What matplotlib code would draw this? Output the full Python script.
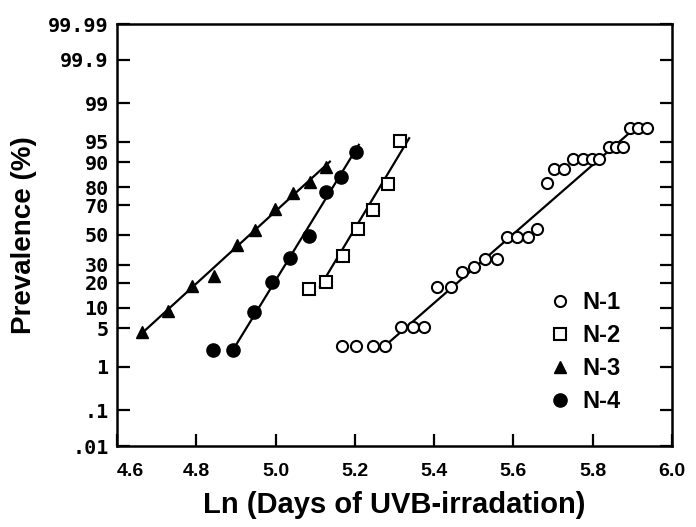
import math

import numpy as np
import matplotlib
matplotlib.use("Agg")
import matplotlib.pyplot as plt
from matplotlib.lines import Line2D

# ---- data ----
# x = ln(days of UVB irradiation), y = prevalence in %
n1_x = [5.167, 5.203, 5.245, 5.276, 5.316, 5.346, 5.375, 5.406, 5.442,
        5.470, 5.501, 5.528, 5.558, 5.583, 5.610, 5.636, 5.659, 5.684,
        5.703, 5.728, 5.750, 5.776, 5.798, 5.817, 5.840, 5.859, 5.877,
        5.894, 5.915, 5.938]
n1_y = [2.5, 2.5, 2.5, 2.5, 5.2, 5.2, 5.2, 18.1, 18.1,
        25.5, 28.5, 33.6, 33.6, 48.8, 48.8, 48.8, 54.0, 81.9,
        87.8, 87.8, 90.9, 90.9, 90.9, 90.9, 94.0, 94.0, 94.0,
        97.0, 97.0, 97.0]

n2_x = [5.084, 5.126, 5.171, 5.209, 5.247, 5.283, 5.314]
n2_y = [16.9, 20.6, 35.8, 54.0, 67.0, 81.6, 95.1]

n3_x = [4.662, 4.729, 4.788, 4.845, 4.902, 4.948, 4.999, 5.045, 5.087, 5.127]
n3_y = [4.4, 9.1, 18.4, 23.5, 43.0, 53.5, 67.5, 76.9, 82.6, 88.4]

n4_x = [4.841, 4.892, 4.946, 4.990, 5.036, 5.085, 5.127, 5.164, 5.202]
n4_y = [2.1, 2.1, 8.8, 20.2, 34.0, 49.3, 77.7, 84.5, 92.9]

# fitted lines: (x start, x end), (% start, % end)
n1_fit_x, n1_fit_y = [5.272, 5.911], [2.4, 97.2]
n2_fit_x, n2_fit_y = [5.112, 5.337], [18.1, 95.6]
n3_fit_x, n3_fit_y = [4.658, 5.137], [3.9, 90.2]
n4_fit_x, n4_fit_y = [4.890, 5.210], [2.0, 94.4]

x_ticks = [4.6, 4.8, 5.0, 5.2, 5.4, 5.6, 5.8, 6.0]
y_ticks = [0.01, 0.1, 1, 5, 10, 20, 30, 50, 70, 80, 90, 95, 99, 99.9, 99.99]
y_tick_labels = [".01", ".1", "1", "5", "10", "20", "30", "50", "70", "80",
                 "90", "95", "99", "99.9", "99.99"]

# ---- normal probability (probit) scale ----
_z = np.linspace(-6, 6, 24001)
_p = 50.0 * (1.0 + np.vectorize(math.erf)(_z / math.sqrt(2)))


def to_probit(p):
    p = np.clip(np.asarray(p, dtype=float), _p[0], _p[-1])
    return np.interp(p, _p, _z)


def from_probit(z):
    return np.interp(np.asarray(z, dtype=float), _z, _p)


fig = plt.figure(figsize=(6.96, 5.27), dpi=100)
ax = fig.add_axes([117 / 696, 1 - 446 / 527, 555 / 696, 422 / 527])
ax.set_yscale("function", functions=(to_probit, from_probit))

lw = 1.6
for fx, fy in [(n1_fit_x, n1_fit_y), (n2_fit_x, n2_fit_y),
               (n3_fit_x, n3_fit_y), (n4_fit_x, n4_fit_y)]:
    ax.plot(fx, fy, color="black", lw=lw, zorder=2)

ax.plot(n1_x, n1_y, "o", ms=8, mfc="white", mec="black", mew=1.5, zorder=3)
ax.plot(n2_x, n2_y, "s", ms=8.5, mfc="white", mec="black", mew=1.5, zorder=3)
ax.plot(n3_x, n3_y, "^", ms=9, color="black", zorder=3)
ax.plot(n4_x, n4_y, "o", ms=9.5, color="black", zorder=3)

ax.set_xlim(4.6, 6.0)
ax.set_ylim(0.01, 99.99)
ax.set_xticks(x_ticks)
xt = ax.set_xticklabels([f"{v:.1f}" for v in x_ticks], fontsize=14,
                        fontweight="bold", family="Liberation Sans")
xt[0].set_horizontalalignment("left")
ax.set_yticks(y_ticks)
ax.set_yticklabels(y_tick_labels, fontsize=14.5, fontweight="bold",
                   family="DejaVu Sans Mono")
ax.yaxis.set_minor_locator(plt.NullLocator())
ax.xaxis.set_minor_locator(plt.NullLocator())

ax.tick_params(axis="both", direction="in", length=9, width=1.6)
ax.tick_params(axis="y", right=True, labelright=False, pad=6)
ax.tick_params(axis="x", top=False, pad=12)
for sp in ax.spines.values():
    sp.set_linewidth(1.8)

ax.set_xlabel("Ln (Days of UVB-irradation)", fontsize=21, fontweight="bold",
              family="Liberation Sans", labelpad=8)
ax.set_ylabel("Prevalence (%)", fontsize=20, fontweight="bold",
              family="Liberation Sans", labelpad=8)

handles = [
    Line2D([], [], ls="", marker="o", ms=8, mfc="white", mec="black", mew=1.5),
    Line2D([], [], ls="", marker="s", ms=8.5, mfc="white", mec="black", mew=1.5),
    Line2D([], [], ls="", marker="^", ms=9, color="black"),
    Line2D([], [], ls="", marker="o", ms=9.5, color="black"),
]
ax.legend(handles, ["N-1", "N-2", "N-3", "N-4"], loc="upper left",
          bbox_to_anchor=(0.755, 0.395), frameon=False, handlelength=1.0,
          handletextpad=0.45, borderpad=0, labelspacing=0.42,
          prop={"family": "Liberation Sans", "weight": "bold", "size": 17})

fig.savefig("out.png", dpi=100)
